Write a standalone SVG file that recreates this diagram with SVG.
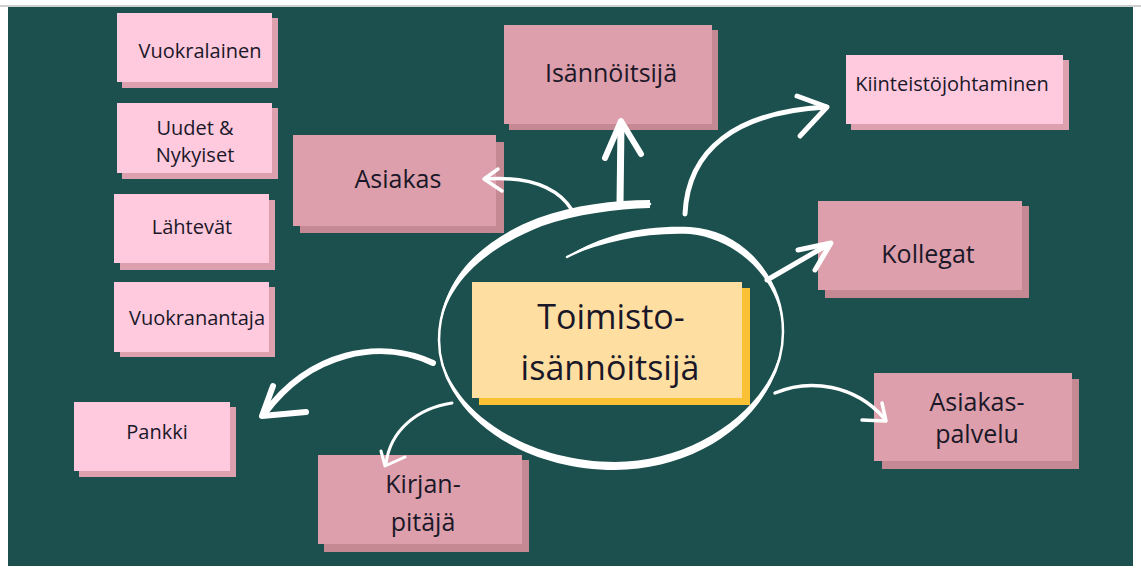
<svg xmlns="http://www.w3.org/2000/svg" width="1141" height="572" viewBox="0 0 1141 572">
  <style>
    .lbl { font-family: "Open Sans", "Liberation Sans", sans-serif; font-weight: 500; fill: #1a1828; text-anchor: middle; }
    .sm { font-size: 20px; }
    .md { font-size: 25px; }
    .lg { font-size: 34px; }
    .lp { fill: #ffc9de; }
    .lp-sh { fill: #dca0ae; }
    .dp { fill: #dd9fab; }
    .dp-sh { fill: #c58994; }
    .yl { fill: #ffdea1; }
    .yl-sh { fill: #fbc134; }
    .wire { fill: none; stroke: #ffffff; stroke-linecap: round; stroke-linejoin: round; }
    .brush { fill: #ffffff; }
  </style>

  <!-- page and board -->
  <rect x="0" y="0" width="1141" height="572" fill="#ffffff"/>
  <rect x="0" y="5" width="1141" height="2" fill="#cfcfcf"/>
  <rect x="8" y="7" width="1125" height="559" fill="#1b504e"/>

  <!-- left column -->
  <g id="vuokralainen">
    <rect class="lp-sh" x="122" y="18" width="156" height="70"/>
    <rect class="lp" x="117" y="13" width="155" height="69"/>
    <text class="lbl sm" x="200" y="58">Vuokralainen</text>
  </g>
  <g id="uudet-nykyiset">
    <rect class="lp-sh" x="122" y="108" width="156" height="71"/>
    <rect class="lp" x="117" y="103" width="155" height="70"/>
    <text class="lbl sm" x="195" y="135">Uudet &amp;</text>
    <text class="lbl sm" x="195" y="162">Nykyiset</text>
  </g>
  <g id="lahtevat">
    <rect class="lp-sh" x="120" y="200" width="155" height="70"/>
    <rect class="lp" x="114" y="194" width="155" height="69"/>
    <text class="lbl sm" x="192" y="234">Lähtevät</text>
  </g>
  <g id="vuokranantaja">
    <rect class="lp-sh" x="120" y="287" width="155" height="70"/>
    <rect class="lp" x="114" y="282" width="155" height="70"/>
    <text class="lbl sm" x="197" y="325">Vuokranantaja</text>
  </g>
  <g id="pankki">
    <rect class="lp-sh" x="79" y="407" width="157" height="70"/>
    <rect class="lp" x="74" y="402" width="156" height="69"/>
    <text class="lbl sm" x="157" y="439">Pankki</text>
  </g>

  <!-- linked roles -->
  <g id="asiakas">
    <rect class="dp-sh" x="300" y="142" width="204" height="91"/>
    <rect class="dp" x="293" y="135" width="203" height="91"/>
    <text class="lbl md" x="398" y="188">Asiakas</text>
  </g>
  <g id="isannoitsija">
    <rect class="dp-sh" x="509" y="30" width="209" height="100"/>
    <rect class="dp" x="504" y="25" width="208" height="99"/>
    <text class="lbl md" x="611" y="82">Isännöitsijä</text>
  </g>
  <g id="kiinteistojohtaminen">
    <rect class="lp-sh" x="851" y="60" width="218" height="70"/>
    <rect class="lp" x="846" y="55" width="217" height="69"/>
    <text class="lbl sm" x="952" y="91">Kiinteistöjohtaminen</text>
  </g>
  <g id="kollegat">
    <rect class="dp-sh" x="825" y="206" width="204" height="92"/>
    <rect class="dp" x="818" y="201" width="204" height="89"/>
    <text class="lbl md" x="928" y="263">Kollegat</text>
  </g>
  <g id="asiakaspalvelu">
    <rect class="dp-sh" x="882" y="379" width="197" height="90"/>
    <rect class="dp" x="874" y="373" width="198" height="88"/>
    <text class="lbl md" x="977" y="411">Asiakas-</text>
    <text class="lbl md" x="977" y="443">palvelu</text>
  </g>
  <g id="kirjanpitaja">
    <rect class="dp-sh" x="324" y="460" width="205" height="92"/>
    <rect class="dp" x="318" y="455" width="204" height="89"/>
    <text class="lbl md" x="423" y="493">Kirjan-</text>
    <text class="lbl md" x="423" y="531">pitäjä</text>
  </g>

  <!-- centre -->
  <g id="toimistoisannoitsija">
    <rect class="yl-sh" x="479" y="288" width="271" height="117"/>
    <rect class="yl" x="472" y="282" width="270" height="116"/>
    <text class="lbl lg" x="611" y="329">Toimisto-</text>
    <text class="lbl lg" x="610" y="380">isännöitsijä</text>
  </g>

  <!-- hand-drawn loop and arrows -->
  <g id="connectors">
    <!-- loop around the centre: thin base line -->
    <path class="wire" stroke-width="2.5" d="M567,257 C600,239 645,229 690,231 C740,234 783,275 783,332 C783,405 705,466 615,466 C520,466 439,410 439,340 C439,285 480,245 540,222 C575,210 615,205 650,204"/>
    <!-- heavier brush parts of the loop -->
    <path class="brush" d="M567,257 C600,235 645,225 690,227 C740,230 783,272 783,332 C781,280 738,239 690,234 C646,232 602,242 567,257 Z"/>
    <path class="brush" d="M783,332 C783,409 705,470 615,470 C518,470 439,412 439,340 C441,405 521,462 615,462 C702,462 781,400 783,332 Z"/>
    <path class="brush" d="M439,340 C438,283 478,241 538,218 C574,205 614,200 650,200 L650,208 C615,209 577,214 542,226 C482,250 441,287 439,340 Z"/>

    <!-- to Asiakas -->
    <path class="wire" stroke-width="3.5" d="M572,210 C558,188 530,176 485,179"/>
    <path class="wire" stroke-width="3.5" d="M498,169 L484,179 L502,191"/>
    <!-- to Isännöitsijä -->
    <path class="wire" stroke-width="7" d="M620,204 L621,124"/>
    <path class="wire" stroke-width="6" d="M605,158 L621,121 L641,154"/>
    <!-- to Kiinteistöjohtaminen -->
    <path class="wire" stroke-width="5" d="M685,214 C688,150 735,112 826,107"/>
    <path class="wire" stroke-width="5" d="M797,96 L827,107 L800,136"/>
    <!-- to Kollegat -->
    <path class="wire" stroke-width="5" d="M767,280 L829,244"/>
    <path class="wire" stroke-width="5" d="M798,250 L831,243 L815,270"/>
    <!-- to Asiakaspalvelu -->
    <path class="wire" stroke-width="3.5" d="M775,393 C810,378 855,385 884,418"/>
    <path class="wire" stroke-width="3.5" d="M882,403 L886,421 L862,420"/>
    <!-- to Kirjanpitäjä -->
    <path class="wire" stroke-width="3" d="M452,403 C418,408 390,430 386,464"/>
    <path class="wire" stroke-width="3" d="M381,451 L385,466 L405,457"/>
    <!-- to Pankki -->
    <path class="wire" stroke-width="6" d="M433,363 C380,338 310,352 265,413"/>
    <path class="wire" stroke-width="6" d="M273,386 L262,416 L306,412"/>
  </g>
</svg>
